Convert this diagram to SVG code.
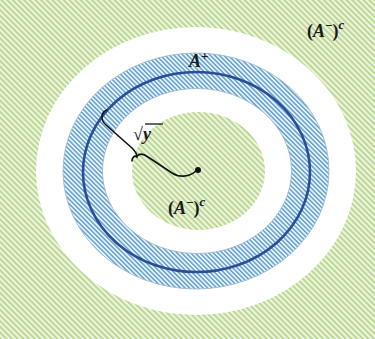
<svg xmlns="http://www.w3.org/2000/svg" width="375" height="339" viewBox="0 0 375 339">
<style>
.lbl{font-family:"Liberation Serif","DejaVu Serif",serif;font-size:18px;font-weight:bold;fill:#1a1a1a}
.it{font-style:italic}
.sup{font-size:13px}
.brace{fill:none;stroke:#111;stroke-width:1.6;stroke-linecap:round;stroke-linejoin:round}
</style>
<defs>
<pattern id="green" patternUnits="userSpaceOnUse" width="4" height="4" patternTransform="rotate(-45)">
<rect width="4" height="4" fill="#edf5e0"/>
<rect width="2" height="4" fill="#bdd795"/>
</pattern>
<pattern id="blue" patternUnits="userSpaceOnUse" width="3.2" height="3.2" patternTransform="rotate(-45)">
<rect width="3.2" height="3.2" fill="#eaf3fb"/>
<rect width="1.5" height="3.2" fill="#64a2d0"/>
</pattern>
</defs>
<g id="background">
<rect x="0" y="0" width="375" height="339" fill="url(#green)"/>
</g>
<g id="outer-white">
<ellipse cx="196" cy="171" rx="160" ry="144" fill="#ffffff"/>
</g>
<g id="A-plus-ring">
<ellipse cx="196" cy="171" rx="133" ry="118" fill="url(#blue)" stroke="#9bb4c8" stroke-width="0.8"/>
<ellipse cx="197" cy="171" rx="94.5" ry="82.5" fill="#ffffff" stroke="#9bb4c8" stroke-width="0.8"/>
<ellipse cx="196.5" cy="172" rx="113.5" ry="100" fill="none" stroke="#2b4f96" stroke-width="2.6"/>
</g>
<g id="inner-green">
<ellipse cx="198.5" cy="171" rx="66.5" ry="59" fill="url(#green)"/>
</g>
<g id="connectors">
<path class="brace" d="M107,110 C101,112 100,120 106,125 L132,148 C136,152 137,154 137,157"/>
<path class="brace" d="M137,157 C135,155 132,157 132,161"/>
<path class="brace" d="M137,156 C140,153 144,154 148,157 L172,173 C178,177 188,178 196,171"/>
<circle cx="198" cy="170" r="3" fill="#111"/>
</g>
<g id="labels">
<text class="lbl" x="307" y="37">(<tspan class="it">A</tspan><tspan class="sup" dy="-7">−</tspan><tspan dy="7">)</tspan><tspan class="it sup" dy="-8">c</tspan></text>
<text class="lbl" x="168" y="214">(<tspan class="it">A</tspan><tspan class="sup" dy="-7">−</tspan><tspan dy="7">)</tspan><tspan class="it sup" dy="-8">c</tspan></text>
<text class="lbl" x="189" y="67"><tspan class="it">A</tspan><tspan class="sup" dy="-7">+</tspan></text>
<text class="lbl" x="133" y="140" font-size="19">√<tspan class="it">y</tspan></text>
<line x1="145" y1="124" x2="163" y2="124" stroke="#1a1a1a" stroke-width="1.3"/>
</g>
</svg>
